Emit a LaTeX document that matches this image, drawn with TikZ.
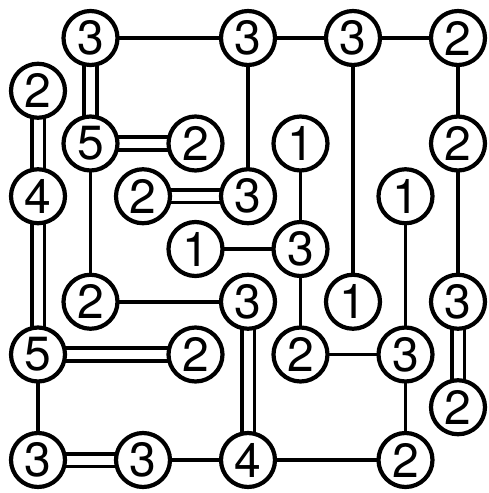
\documentclass[tikz,border=0pt]{standalone}
\usepackage{fontspec}
\setmainfont{TeX Gyre Heros}
\usetikzlibrary{backgrounds}
\begin{document}
\begin{tikzpicture}[x=1pt,y=-1pt,
  isl/.style={circle,draw,line width=4.2pt,minimum size=54pt,inner sep=0pt,fill=white,
    font=\fontsize{48}{48}\selectfont},
  one/.style={line width=3.6pt},
  two/.style={line width=3.6pt,double,double distance=9pt}]
\useasboundingbox (0,0) rectangle (489,493);
\def\cx#1{38+52.5*#1}
\def\ry#1{38+52.75*#1}
\node[isl] (a10) at ({\cx1},{\ry0}) {3};
\node[isl] (a40) at ({\cx4},{\ry0}) {3};
\node[isl] (a60) at ({\cx6},{\ry0}) {3};
\node[isl] (a80) at ({\cx8},{\ry0}) {2};
\node[isl] (a01) at ({\cx0},{\ry1}) {2};
\node[isl] (a12) at ({\cx1},{\ry2}) {5};
\node[isl] (a32) at ({\cx3},{\ry2}) {2};
\node[isl] (a52) at ({\cx5},{\ry2}) {1};
\node[isl] (a82) at ({\cx8},{\ry2}) {2};
\node[isl] (a03) at ({\cx0},{\ry3}) {4};
\node[isl] (a23) at ({\cx2},{\ry3}) {2};
\node[isl] (a43) at ({\cx4},{\ry3}) {3};
\node[isl] (a73) at ({\cx7},{\ry3}) {1};
\node[isl] (a34) at ({\cx3},{\ry4}) {1};
\node[isl] (a54) at ({\cx5},{\ry4}) {3};
\node[isl] (a15) at ({\cx1},{\ry5}) {2};
\node[isl] (a45) at ({\cx4},{\ry5}) {3};
\node[isl] (a65) at ({\cx6},{\ry5}) {1};
\node[isl] (a85) at ({\cx8},{\ry5}) {3};
\node[isl] (a06) at ({\cx0},{\ry6}) {5};
\node[isl] (a36) at ({\cx3},{\ry6}) {2};
\node[isl] (a56) at ({\cx5},{\ry6}) {2};
\node[isl] (a76) at ({\cx7},{\ry6}) {3};
\node[isl] (a87) at ({\cx8},{\ry7}) {2};
\node[isl] (a08) at ({\cx0},{\ry8}) {3};
\node[isl] (a28) at ({\cx2},{\ry8}) {3};
\node[isl] (a48) at ({\cx4},{\ry8}) {4};
\node[isl] (a78) at ({\cx7},{\ry8}) {2};
\begin{scope}[on background layer]
\draw[one] (a10.center) -- (a40.center);
\draw[one] (a40.center) -- (a60.center);
\draw[one] (a60.center) -- (a80.center);
\draw[two] (a10.center) -- (a12.center);
\draw[two] (a01.center) -- (a03.center);
\draw[two] (a12.center) -- (a32.center);
\draw[one] (a12.center) -- (a15.center);
\draw[one] (a40.center) -- (a43.center);
\draw[one] (a60.center) -- (a65.center);
\draw[one] (a80.center) -- (a82.center);
\draw[one] (a82.center) -- (a85.center);
\draw[one] (a52.center) -- (a54.center);
\draw[two] (a23.center) -- (a43.center);
\draw[two] (a03.center) -- (a06.center);
\draw[one] (a73.center) -- (a76.center);
\draw[one] (a34.center) -- (a54.center);
\draw[one] (a54.center) -- (a56.center);
\draw[one] (a15.center) -- (a45.center);
\draw[two] (a45.center) -- (a48.center);
\draw[two] (a85.center) -- (a87.center);
\draw[two] (a06.center) -- (a36.center);
\draw[one] (a06.center) -- (a08.center);
\draw[one] (a56.center) -- (a76.center);
\draw[one] (a76.center) -- (a78.center);
\draw[two] (a08.center) -- (a28.center);
\draw[one] (a28.center) -- (a48.center);
\draw[one] (a48.center) -- (a78.center);
\end{scope}
\end{tikzpicture}
\end{document}
